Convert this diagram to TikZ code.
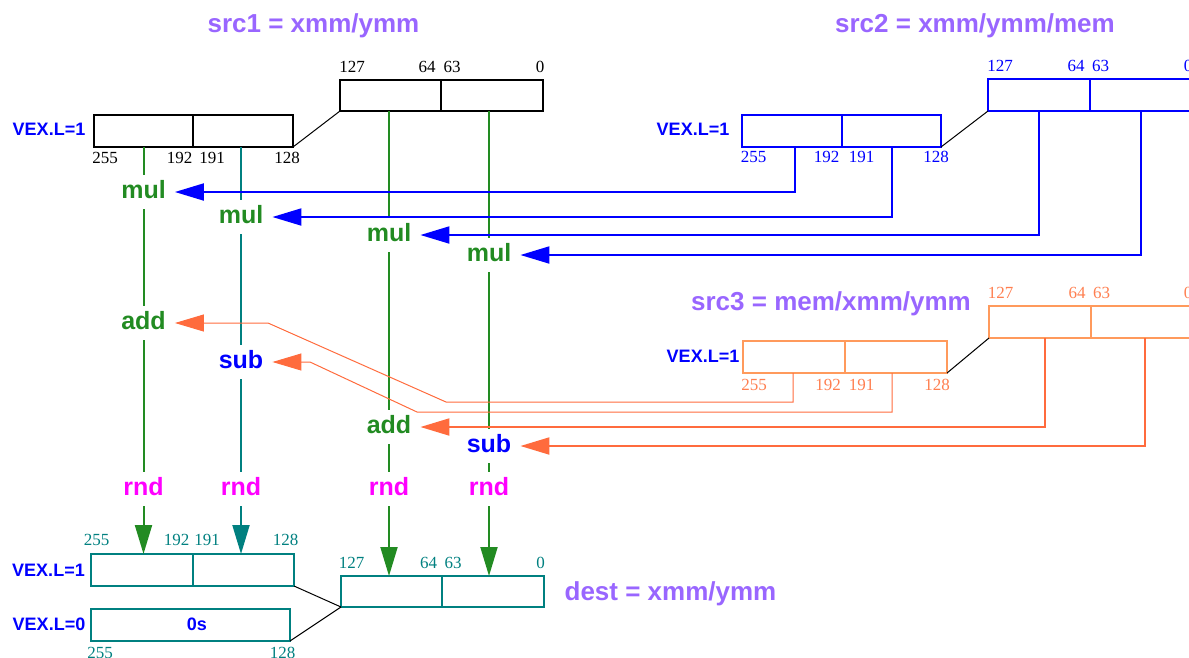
\documentclass[tikz,border=0pt]{standalone}
\usepackage{fontspec}
\setmainfont{Liberation Serif}
\setsansfont{Liberation Sans}
\usetikzlibrary{arrows.meta}
\definecolor{colTitle}{HTML}{9966FF}
\definecolor{colBlue}{HTML}{0000FF}
\definecolor{colGreen}{HTML}{228B22}
\definecolor{colTeal}{HTML}{008080}
\definecolor{colOrange}{HTML}{FF6B3D}
\definecolor{colOrBox}{HTML}{FF9A5C}
\definecolor{colOrNum}{HTML}{FF7F50}
\definecolor{colRnd}{HTML}{FF00FF}

\begin{document}
\begin{tikzpicture}[x=1pt, y=-1pt,
    cell/.style={draw, line width=2pt, anchor=north west, inner sep=0pt, outer sep=0pt},
    bitnum/.style={font=\fontsize{17}{17}\selectfont, inner sep=0pt},
    vexlbl/.style={font=\fontsize{18}{18}\selectfont\sffamily\bfseries, text=colBlue, inner sep=0pt},
    title/.style={font=\fontsize{26}{26}\selectfont\sffamily\bfseries, text=colTitle, anchor=base, inner sep=0pt},
    op/.style={font=\fontsize{25}{25}\selectfont\sffamily\bfseries, inner xsep=9pt, inner ysep=5pt, text depth=6pt},
    feed/.style={line width=2pt, -{Triangle[length=29pt, width=17pt]}},
    link/.style={black, line width=1pt}]
    \useasboundingbox (0,0) rectangle (1189,657);
    \newcommand{\regcell}[6]{%
      \pgfmathsetmacro{\cw}{#4-#2}%
      \pgfmathsetmacro{\ch}{#5-#3}%
      \node[cell, draw=#6, minimum width=\cw pt, minimum height=\ch pt] (#1) at (#2,#3) {};%
    }
    % titles
    \node[title] (t1) at (313.5,32) {src1 = xmm/ymm};
    \node[title] (t2) at (975,32) {src2 = xmm/ymm/mem};
    \node[title] (t3) at (831,310) {src3 = mem/xmm/ymm};
    \node[title] (t4) at (670.5,600) {dest = xmm/ymm};
    % src1
    \regcell{s1h}{340}{80}{441}{111}{black}
    \regcell{s1l}{441}{80}{543}{111}{black}
    \regcell{s1uh}{93.5}{115}{193}{147}{black}
    \regcell{s1ul}{193}{115}{293}{147}{black}
    \draw[link] (s1ul.south east) -- (s1h.south west);
    \node[vexlbl] (v1) at (49,129) {VEX.L=1};
    \foreach \nm/\xx/\yy/\lbl in {a/352/67/127, b/427/67/64, c/452/67/63, d/540/67/0,
        e/105/157.5/255, f/179.5/157.5/192, g/212/157.5/191, h/287/157.5/128}{
      \node[bitnum, text=black] (s1n\nm) at (\xx,\yy) {\lbl};
    }
    % src2
    \regcell{s2h}{988}{79}{1090}{111}{colBlue}
    \regcell{s2l}{1090}{79}{1191}{111}{colBlue}
    \regcell{s2uh}{742}{115}{842}{147}{colBlue}
    \regcell{s2ul}{842}{115}{941}{147}{colBlue}
    \draw[link] (s2ul.south east) -- (s2h.south west);
    \node[vexlbl] (v2) at (693,129) {VEX.L=1};
    \foreach \nm/\xx/\yy/\lbl in {a/1000/66/127, b/1076/66/64, c/1100.5/66/63, d/1188/66/0,
        e/753.5/157/255, f/826.5/157/192, g/861.5/157/191, h/936/157/128}{
      \node[bitnum, text=colBlue] (s2n\nm) at (\xx,\yy) {\lbl};
    }
    % src3
    \regcell{s3h}{989}{306}{1091}{338}{colOrBox}
    \regcell{s3l}{1091}{306}{1192}{338}{colOrBox}
    \regcell{s3uh}{743}{341}{845}{373}{colOrBox}
    \regcell{s3ul}{845}{341}{947}{373}{colOrBox}
    \draw[link] (s3ul.south east) -- (s3h.south west);
    \node[vexlbl] (v3) at (703,356) {VEX.L=1};
    \foreach \nm/\xx/\yy/\lbl in {a/1000.5/293/127, b/1077/293/64, c/1101.5/293/63, d/1188/293/0,
        e/754/384.5/255, f/828/384.5/192, g/861.5/384.5/191, h/937/384.5/128}{
      \node[bitnum, text=colOrNum] (s3n\nm) at (\xx,\yy) {\lbl};
    }
    % dest
    \regcell{d1h}{341}{576}{442}{607}{colTeal}
    \regcell{d1l}{442}{576}{544}{607}{colTeal}
    \regcell{d1uh}{91}{554}{193}{586}{colTeal}
    \regcell{d1ul}{193}{554}{294}{586}{colTeal}
    \regcell{d0}{91}{609}{290}{641}{colTeal}
    \draw[link] (d1ul.south east) -- (d1h.south west);
    \draw[link] (d0.south east) -- (d1h.south west);
    \node[vexlbl] (v4) at (48.5,570) {VEX.L=1};
    \node[vexlbl] (v5) at (49,624) {VEX.L=0};
    \node[vexlbl] (zs) at (197,624) {0s};
    \foreach \nm/\xx/\yy/\lbl in {a/351.5/563/127, b/428.5/563/64, c/453/563/63, d/540.5/563/0,
        e/96.5/539.5/255, f/176.5/539.5/192, g/207/539.5/191, h/285.5/539.5/128,
        i/100/652.5/255, j/282.5/652.5/128}{
      \node[bitnum, text=colTeal] (dn\nm) at (\xx,\yy) {\lbl};
    }
    % operations
    \node[op, text=colGreen] (mul1) at (143.5,192) {mul};
    \node[op, text=colGreen] (mul2) at (241,217) {mul};
    \node[op, text=colGreen] (mul3) at (389,235) {mul};
    \node[op, text=colGreen] (mul4) at (489,255) {mul};
    \node[op, text=colGreen] (add1) at (143.5,323) {add};
    \node[op, text=colBlue] (sub1) at (241,362) {sub};
    \node[op, text=colGreen] (add2) at (389,427) {add};
    \node[op, text=colBlue] (sub2) at (489,446) {sub};
    \foreach \k/\xx in {1/143.5, 2/241, 3/389, 4/489}{
      \node[op, text=colRnd] (rnd\k) at (\xx,489) {rnd};
    }
    % lanes
    \draw[colGreen, line width=2pt] (mul1 |- s1uh.south) -- (mul1) (mul1) -- (add1) (add1) -- (rnd1);
    \draw[colTeal, line width=2pt] (mul2 |- s1ul.south) -- (mul2) (mul2) -- (sub1) (sub1) -- (rnd2);
    \draw[colGreen, line width=2pt] (mul3 |- s1h.south) -- (mul3) (mul3) -- (add2) (add2) -- (rnd3);
    \draw[colGreen, line width=2pt] (mul4 |- s1l.south) -- (mul4) (mul4) -- (sub2) (sub2) -- (rnd4);
    \draw[feed, colGreen] (rnd1) -- (rnd1 |- d1uh.north);
    \draw[feed, colTeal] (rnd2) -- (rnd2 |- d1ul.north);
    \draw[feed, colGreen] (rnd3) -- (rnd3 |- d1h.north);
    \draw[feed, colGreen] (rnd4) -- (rnd4 |- d1l.north);
    % src2 feeds
    \draw[feed, colBlue] ([xshift=3pt]s2uh.south) |- (mul1);
    \draw[feed, colBlue] (s2ul.south) |- (mul2);
    \draw[feed, colBlue] (s2h.south) |- (mul3);
    \draw[feed, colBlue] (s2l.south) |- (mul4);
    % src3 feeds
    \coordinate (bendA1) at (446,402);
    \coordinate (bendA2) at (268,323);
    \coordinate (bendB1) at (417,412);
    \coordinate (bendB2) at (310,362);
    \draw[feed, colOrange, line width=1pt] ([xshift=-1pt]s3uh.south) |- (bendA1) -- (bendA2) -- (add1);
    \draw[feed, colOrange, line width=1pt] ([xshift=-4pt]s3ul.south) |- (bendB1) -- (bendB2) -- (sub1);
    \draw[feed, colOrange] ([xshift=5pt]s3h.south) |- (add2);
    \draw[feed, colOrange] ([xshift=3pt]s3l.south) |- (sub2);
\end{tikzpicture}
\end{document}
